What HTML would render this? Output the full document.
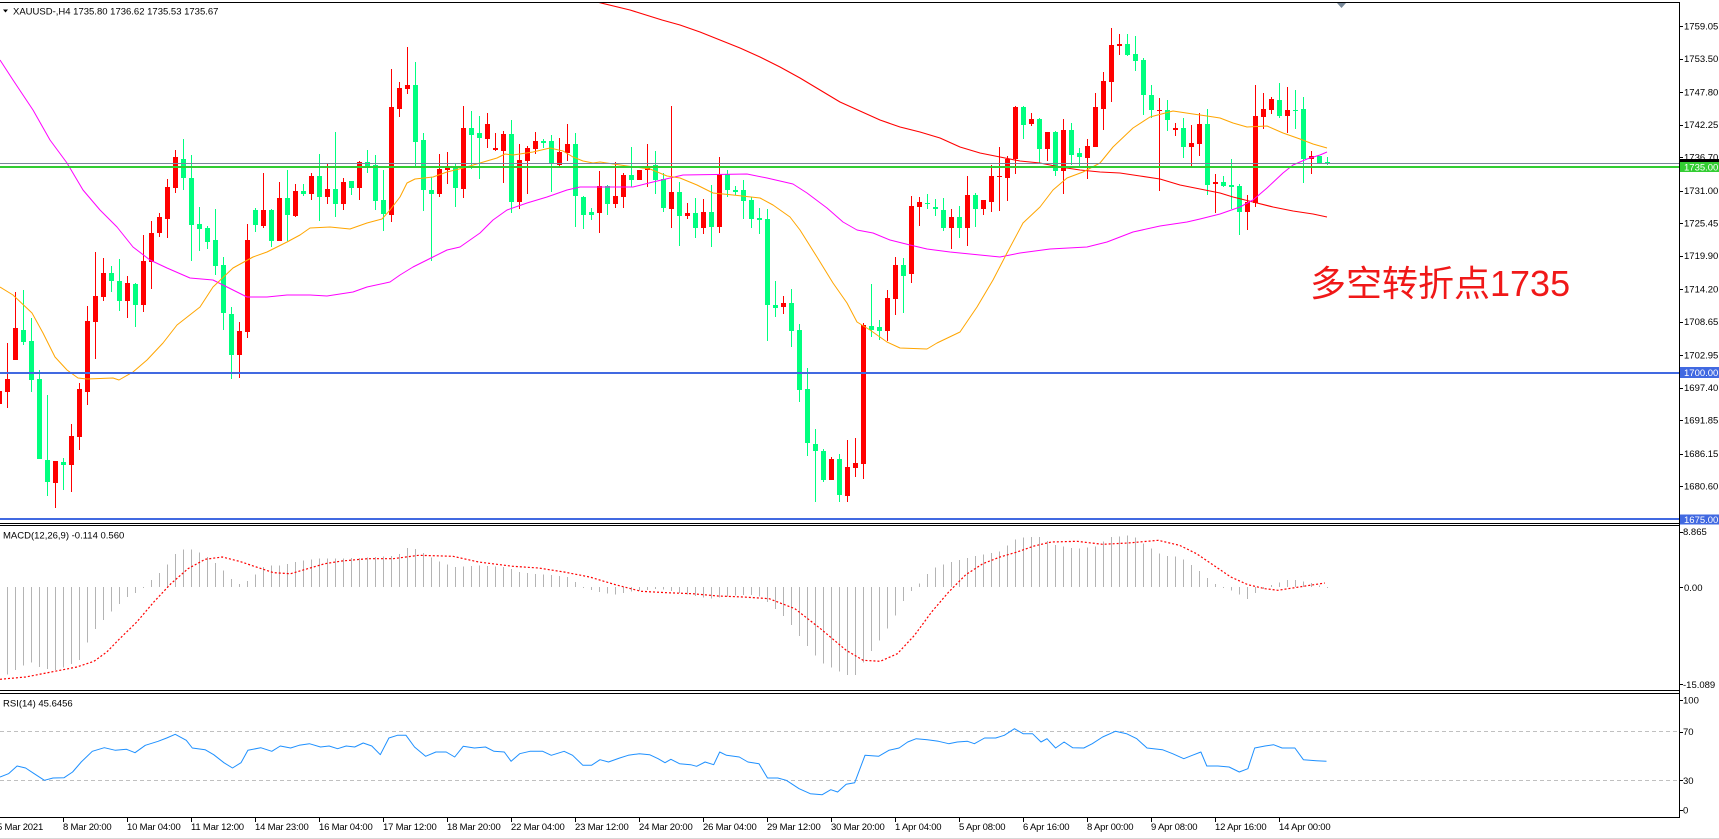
<!DOCTYPE html>
<html><head><meta charset="utf-8">
<style>
html,body{margin:0;padding:0;background:#fff;overflow:hidden;}
svg{display:block;}
text{font-family:"Liberation Sans","Noto Sans CJK SC",sans-serif;}
.ax{font-size:9.5px;fill:#000;}
.xl{font-size:9.5px;fill:#000;letter-spacing:-0.2px;}
.wt{font-size:9.5px;fill:#fff;}
</style></head><body>
<svg id="s" xmlns="http://www.w3.org/2000/svg" width="1719" height="839" viewBox="0 0 1719 839">
<defs>
<clipPath id="cm"><rect x="0" y="3" width="1679" height="520"/></clipPath>
<clipPath id="cd"><rect x="0" y="526" width="1679" height="164"/></clipPath>
<clipPath id="cr"><rect x="0" y="694" width="1679" height="123"/></clipPath>
</defs>
<rect width="1719" height="839" fill="#fff"/>
<g id="main" clip-path="url(#cm)"></g>
<g id="macd" clip-path="url(#cd)"></g>
<g id="rsi" clip-path="url(#cr)">
  <line x1="0" y1="731.5" x2="1679" y2="731.5" stroke="#C0C0C0" stroke-width="1" stroke-dasharray="4,3"/>
  <line x1="0" y1="780.5" x2="1679" y2="780.5" stroke="#C0C0C0" stroke-width="1" stroke-dasharray="4,3"/>
</g>
<g id="objs" clip-path="url(#cm)" shape-rendering="crispEdges">
  <rect x="0" y="163" width="1679" height="1" fill="#778899"/>
  <rect x="0" y="166" width="1679" height="2" fill="#32CD32"/>
  <rect x="0" y="372" width="1679" height="2" fill="#4169E1"/>
  <rect x="0" y="518" width="1679" height="2" fill="#4169E1"/>
</g>
<!-- frame -->
<g shape-rendering="crispEdges" fill="#000">
  <rect x="0" y="2" width="1680" height="1"/>
  <rect x="1679" y="2" width="1" height="816"/>
  <rect x="0" y="523" width="1679" height="1"/>
  <rect x="0" y="525" width="1679" height="1"/>
  <rect x="0" y="690" width="1679" height="1"/>
  <rect x="0" y="693" width="1679" height="1"/>
  <rect x="0" y="817" width="1680" height="1"/>
  <rect x="0" y="838" width="1719" height="1" fill="#d8d8d8"/>
</g>
<polygon points="1337,3 1346,3 1341.5,8" fill="#778899"/>
<!-- title -->
<polygon points="3,9.5 8,9.5 5.5,12.5" fill="#000"/>
<text x="13" y="14.5" class="ax">XAUUSD-,H4  1735.80 1736.62 1735.53 1735.67</text>
<text x="3" y="538.5" class="ax">MACD(12,26,9) -0.114 0.560</text>
<text x="3" y="706.5" class="ax">RSI(14) 45.6456</text>
<!-- big annotation -->
<text x="1310" y="296" font-size="36" fill="#F01818" style="font-family:'Liberation Sans','Noto Sans CJK SC',sans-serif;">多空转折点1735</text>
<!-- right axis ticks -->
<g id="rt" shape-rendering="crispEdges" fill="#000"></g>
<!-- right axis labels -->
<text x="1684" y="29.4" class="ax">1759.05</text>
<text x="1684" y="62" class="ax">1753.50</text>
<text x="1684" y="95.4" class="ax">1747.80</text>
<text x="1684" y="128" class="ax">1742.25</text>
<text x="1684" y="160.4" class="ax">1736.70</text>
<rect x="1680" y="159" width="39" height="3" fill="#000"/>
<rect x="1680" y="162" width="39" height="10" fill="#32CD32"/>
<text x="1684" y="170.6" class="wt">1735.00</text>
<text x="1684" y="194" class="ax">1731.00</text>
<text x="1684" y="226.5" class="ax">1725.45</text>
<text x="1684" y="259" class="ax">1719.90</text>
<text x="1684" y="292.5" class="ax">1714.20</text>
<text x="1684" y="325" class="ax">1708.65</text>
<text x="1684" y="358.5" class="ax">1702.95</text>
<rect x="1680" y="367" width="39" height="11" fill="#4169E1"/>
<text x="1684" y="376" class="wt">1700.00</text>
<text x="1684" y="391" class="ax">1697.40</text>
<text x="1684" y="423.6" class="ax">1691.85</text>
<text x="1684" y="457" class="ax">1686.15</text>
<text x="1684" y="489.6" class="ax">1680.60</text>
<rect x="1680" y="514.5" width="39" height="10" fill="#4169E1"/>
<text x="1684" y="523" class="wt">1675.00</text>
<text x="1683" y="535" class="ax">8.865</text>
<text x="1684" y="591" class="ax">0.00</text>
<text x="1683" y="688" class="ax">-15.089</text>
<text x="1683" y="703.5" class="ax">100</text>
<text x="1683" y="735" class="ax">70</text>
<text x="1683" y="784" class="ax">30</text>
<text x="1683" y="813.5" class="ax">0</text>
<!-- x axis -->
<g id="xt" shape-rendering="crispEdges" fill="#000"></g>
<text x="-3" y="830" class="xl">5 Mar 2021</text>
<text x="63" y="830" class="xl">8 Mar 20:00</text>
<text x="127" y="830" class="xl">10 Mar 04:00</text>
<text x="191" y="830" class="xl">11 Mar 12:00</text>
<text x="255" y="830" class="xl">14 Mar 23:00</text>
<text x="319" y="830" class="xl">16 Mar 04:00</text>
<text x="383" y="830" class="xl">17 Mar 12:00</text>
<text x="447" y="830" class="xl">18 Mar 20:00</text>
<text x="511" y="830" class="xl">22 Mar 04:00</text>
<text x="575" y="830" class="xl">23 Mar 12:00</text>
<text x="639" y="830" class="xl">24 Mar 20:00</text>
<text x="703" y="830" class="xl">26 Mar 04:00</text>
<text x="767" y="830" class="xl">29 Mar 12:00</text>
<text x="831" y="830" class="xl">30 Mar 20:00</text>
<text x="895" y="830" class="xl">1 Apr 04:00</text>
<text x="959" y="830" class="xl">5 Apr 08:00</text>
<text x="1023" y="830" class="xl">6 Apr 16:00</text>
<text x="1087" y="830" class="xl">8 Apr 00:00</text>
<text x="1151" y="830" class="xl">9 Apr 08:00</text>
<text x="1215" y="830" class="xl">12 Apr 16:00</text>
<text x="1279" y="830" class="xl">14 Apr 00:00</text>
</svg>
<script>
(function(){
var NS="http://www.w3.org/2000/svg";
function el(p,t,a){var e=document.createElementNS(NS,t);for(var k in a)e.setAttribute(k,a[k]);p.appendChild(e);return e;}
var C=[
[391,404,385,408,1],[379,392,343,408,1],[328,360,292,360,1],[330,342,290,345,0],[341,380,318,392,0],
[379,459,370,459,0],[460,482,395,496,0],[461,483,461,508,1],[462,465,458,490,0],[436,465,424,492,1],
[389,437,383,450,1],[321,392,306,405,1],[296,322,252,359,1],[273,297,258,301,1],[273,281,266,292,0],
[281,301,259,311,0],[283,301,276,318,1],[284,305,283,327,0],[261,305,235,312,1],[233,262,221,289,1],
[217,233,213,237,1],[187,219,179,238,1],[157,188,150,193,1],[159,178,139,190,0],[178,225,155,261,0],
[224,229,207,251,0],[228,242,226,249,0],[240,266,209,275,0],[265,313,257,330,0],[314,355,307,379,0],
[331,355,322,378,1],[240,332,224,338,1],[210,225,208,232,0],[210,226,173,228,1],[210,241,209,247,0],
[198,241,182,241,1],[198,215,170,241,0],[191,216,184,217,1],[191,194,184,196,0],[176,194,173,200,1],
[176,197,154,221,0],[189,197,164,204,1],[189,204,132,217,0],[182,204,178,210,1],[181,188,181,195,0],
[162,188,161,200,1],[162,167,150,173,0],[165,201,155,210,0],[200,214,170,231,0],[107,215,69,222,1],
[88,109,82,117,1],[85,89,47,94,1],[85,142,62,167,0],[140,190,133,211,0],[190,194,177,261,0],
[169,194,154,197,1],[168,170,152,184,1],[167,188,164,207,0],[128,189,106,198,1],[128,135,111,169,0],
[133,138,116,179,0],[124,139,113,148,1],[148,150,133,151,1],[134,151,131,183,1],[134,202,120,213,0],
[160,202,144,209,1],[148,161,146,194,1],[141,149,132,154,1],[141,143,139,148,0],[141,164,135,192,0],
[152,165,138,166,1],[144,153,124,161,1],[144,196,133,227,0],[197,215,196,229,0],[212,215,208,220,0],
[186,213,171,233,1],[186,204,185,215,0],[196,204,162,208,1],[175,197,173,208,1],[175,180,147,187,0],
[170,180,170,180,1],[168,170,144,187,1],[165,180,151,194,0],[179,208,173,212,0],[192,209,106,228,1],
[192,216,182,246,0],[213,216,203,219,1],[213,228,198,238,0],[212,228,199,234,1],[212,227,185,247,0],
[174,227,157,233,1],[174,190,170,197,0],[190,192,186,195,0],[190,201,180,219,0],[200,219,197,228,0],
[218,220,208,234,0],[219,305,209,341,0],[305,308,281,317,0],[303,307,296,314,1],[303,331,289,347,0],
[330,390,324,402,0],[389,443,368,456,0],[444,451,429,502,0],[451,480,449,482,0],[459,480,457,480,1],
[459,495,454,502,0],[467,496,440,502,1],[463,468,438,477,1],[325,464,323,479,1],[326,330,284,337,0],
[327,331,320,340,0],[298,331,290,341,1],[265,299,257,315,1],[265,276,258,313,0],[206,274,196,283,1],
[202,207,197,226,1],[203,204,194,209,0],[207,209,199,216,0],[210,228,198,231,0],[217,228,209,249,1],
[217,228,206,238,0],[195,228,176,246,1],[195,209,193,227,0],[200,209,200,215,1],[176,202,165,212,1],
[176,177,147,211,1],[159,178,156,201,1],[107,159,106,174,1],[107,125,106,139,0],[119,124,113,126,1],
[119,149,118,164,0],[132,149,132,161,1],[132,171,131,176,0],[130,171,119,194,1],[130,155,123,165,0],
[153,157,148,167,0],[146,158,139,179,1],[107,147,93,147,1],[81,109,72,130,1],[45,82,28,102,1],
[44,46,34,55,1],[44,55,34,56,0],[54,61,36,71,0],[60,95,58,115,0],[95,110,85,118,0],
[110,111,98,191,1],[110,120,100,131,0],[128,130,123,136,1],[128,147,118,158,0],[143,147,125,166,1],
[124,144,113,156,1],[124,185,109,195,0],[182,184,174,213,1],[182,186,176,187,0],[185,187,159,209,0],
[186,212,184,235,0],[202,212,195,230,1],[116,203,85,207,1],[109,117,93,129,1],[99,110,97,114,1],
[100,116,83,118,0],[110,116,87,133,1],[110,111,90,129,0],[109,159,97,183,0],[156,159,151,174,1],
[156,163,156,164,0],[162,163,157,165,0]
];
var main=document.getElementById('main');
var cg=el(main,'g',{'shape-rendering':'crispEdges'});
for(var i=0;i<C.length;i++){
  var k=i-1,c=C[i],col=c[4]?'#FF0000':'#00FF7F';
  el(cg,'rect',{x:8*k+7,y:c[2],width:1,height:Math.max(c[3]-c[2],1),fill:col});
  el(cg,'rect',{x:8*k+5,y:c[0],width:5,height:Math.max(c[1]-c[0],1),fill:col});
}
function pl(p,pts,color,extra){
  var s=pts.map(function(q){return q[0]+','+q[1];}).join(' ');
  var a={points:s,fill:'none',stroke:color,'stroke-width':1,'stroke-linejoin':'round'};
  if(extra)for(var k in extra)a[k]=extra[k];
  return el(p,'polyline',a);
}
var RED=[[560,-10],[597,2],[630,10],[662,20],[680,25],[700,32],[720,40],[740,48],[760,57],[780,67],[800,78],[820,90],[840,102],[860,111],[880,120],[900,127],[920,132],[940,138],[960,147],[980,153],[1000,157],[1020,161],[1040,163],[1060,167],[1080,170],[1100,172],[1120,173],[1140,176],[1160,179],[1180,185],[1200,189],[1220,193],[1233,197],[1253,202],[1273,207],[1293,211],[1313,214],[1327,217]];
var MAG=[[0,60],[13,80],[33,110],[50,140],[67,163],[83,190],[100,210],[117,227],[133,247],[150,260],[167,268],[190,278],[213,280],[233,290],[247,297],[267,297],[287,295],[310,295],[327,296],[353,292],[367,287],[390,282],[400,275],[413,267],[433,257],[447,250],[460,247],[480,233],[493,220],[507,210],[527,203],[547,197],[567,190],[580,187],[633,187],[653,182],[683,175],[747,174],[767,178],[793,184],[807,193],[827,208],[843,222],[857,230],[873,233],[890,240],[910,245],[927,249],[950,252],[980,255],[1000,257],[1020,253],[1050,249],[1087,247],[1107,242],[1133,232],[1160,226],[1187,222],[1200,219],[1220,214],[1240,207],[1253,200],[1267,188],[1283,173],[1293,165],[1307,159],[1320,155],[1327,152]];
var ORA=[[0,287],[13,295],[32,313],[43,333],[55,357],[67,370],[78,378],[87,379],[113,378],[119,380],[133,372],[147,360],[163,343],[177,325],[200,307],[213,287],[233,268],[253,257],[267,252],[287,242],[300,235],[310,228],[330,227],[350,229],[367,223],[382,219],[390,210],[400,197],[407,183],[415,179],[433,177],[447,172],[463,168],[480,163],[497,158],[505,154],[513,155],[533,152],[550,148],[563,151],[573,157],[583,161],[593,163],[600,162],[627,166],[650,169],[667,176],[680,178],[697,185],[713,193],[733,195],[760,198],[773,205],[790,217],[800,230],[817,257],[833,283],[847,303],[857,322],[870,330],[887,342],[900,348],[927,349],[937,343],[960,332],[977,307],[993,280],[1007,253],[1023,223],[1040,207],[1053,190],[1067,178],[1083,172],[1100,163],[1113,147],[1133,128],[1150,117],[1173,111],[1193,114],[1207,116],[1220,118],[1233,123],[1247,127],[1267,126],[1283,133],[1300,139],[1313,144],[1327,148]];
pl(main,RED,'#FF0000',{'stroke-width':1.1});
pl(main,MAG,'#FF00FF');
pl(main,ORA,'#FFA500');
function cv(a){return a.map(function(q){return [+(q[0]/1.17).toFixed(1),+(522+q[1]/3).toFixed(1)];});}
function interp(p,x){if(x<=p[0][0])return p[0][1];for(var i=1;i<p.length;i++){if(x<=p[i][0]){var t=(x-p[i-1][0])/(p[i][0]-p[i-1][0]);return p[i-1][1]+t*(p[i][1]-p[i-1][1]);}}return p[p.length-1][1];}
var H=cv([[0,470],[17,445],[35,420],[50,440],[65,445],[80,430],[95,410],[105,340],[120,295],[135,255],[150,222],[165,205],[178,170],[190,145],[205,95],[215,82],[225,82],[240,100],[255,130],[270,170],[282,190],[295,165],[310,130],[330,130],[345,120],[370,110],[400,110],[440,105],[465,100],[478,75],[490,85],[510,115],[530,135],[560,130],[590,135],[610,152],[640,158],[665,165],[680,195],[700,210],[720,218],[740,208],[770,200],[800,215],[830,230],[860,220],[885,218],[900,245],[920,290],[940,360],[960,420],[975,440],[990,458],[1000,460],[1015,400],[1030,350],[1045,290],[1060,220],[1075,185],[1090,140],[1110,122],[1140,102],[1170,88],[1185,55],[1200,45],[1215,45],[1235,70],[1260,80],[1280,75],[1300,45],[1325,40],[1340,70],[1360,100],[1380,105],[1400,140],[1420,185],[1440,205],[1460,232],[1470,210],[1490,185],[1510,172],[1530,180],[1550,195]]);
var md=document.getElementById('macd');
var hg=el(md,'g',{'shape-rendering':'crispEdges'});
var Z=587;
for(var k=-1;k<=165;k++){var x=8*k+7;var y=interp(H,x);var t=Math.min(y,Z),h=Math.abs(y-Z);if(h<1)h=1;
  el(hg,'rect',{x:x,y:t.toFixed(1),width:1,height:h.toFixed(1),fill:'#B4B4B4'});}
var SG=cv([[0,472],[30,465],[60,450],[90,435],[110,418],[125,390],[140,350],[160,300],[180,240],[200,185],[220,140],[240,112],[260,105],[280,118],[300,135],[320,152],[340,155],[360,140],[380,125],[400,117],[430,110],[460,110],[490,100],[530,103],[560,120],[600,133],[630,138],[660,150],[690,165],[720,188],[750,208],[780,212],[810,215],[840,222],[870,225],[900,230],[930,260],[960,320],[990,385],[1010,415],[1030,418],[1050,395],[1070,340],[1090,270],[1110,210],[1130,158],[1150,125],[1170,105],[1190,90],[1210,72],[1230,60],[1260,58],[1290,67],[1320,63],[1355,55],[1380,70],[1400,95],[1420,130],[1440,165],[1460,188],[1480,200],[1495,205],[1520,195],[1550,183]]);
pl(md,SG,'#FF0000',{'stroke-dasharray':'2,2','stroke-width':1.2});
var RS=cv([[0,765],[10,755],[20,732],[30,738],[40,755],[52,775],[62,768],[75,767],[85,750],[95,720],[108,688],[122,677],[135,685],[148,682],[158,692],[170,670],[185,658],[195,648],[205,637],[218,655],[225,678],[240,683],[250,698],[262,722],[272,738],[282,722],[290,685],[305,677],[318,688],[328,672],[340,678],[350,670],[362,665],[375,675],[385,672],[395,680],[405,672],[415,675],[425,663],[435,672],[445,698],[455,648],[465,640],[475,640],[485,675],[498,703],[510,690],[522,690],[532,705],[542,673],[555,678],[568,675],[578,688],[590,690],[598,718],[608,695],[620,688],[635,688],[645,700],[660,688],[670,700],[682,730],[692,730],[702,713],[712,720],[725,708],[735,700],[748,695],[760,698],[770,710],[778,722],[785,712],[795,725],[808,728],[815,733],[825,720],[835,728],[842,690],[850,700],[865,705],[875,720],[888,725],[898,768],[910,768],[920,775],[935,800],[948,815],[962,818],[972,803],[980,810],[990,787],[1000,782],[1012,700],[1028,703],[1040,685],[1052,678],[1062,660],[1072,650],[1085,653],[1098,658],[1110,665],[1120,660],[1132,658],[1140,665],[1152,648],[1165,648],[1175,640],[1187,620],[1197,635],[1208,635],[1218,660],[1225,650],[1235,678],[1245,660],[1255,677],[1268,678],[1278,665],[1290,645],[1305,628],[1318,635],[1330,650],[1342,678],[1360,683],[1372,695],[1385,710],[1395,700],[1405,690],[1412,732],[1425,732],[1438,735],[1450,750],[1460,740],[1468,678],[1480,672],[1490,668],[1500,678],[1515,678],[1525,713],[1540,716],[1552,718]]);
pl(document.getElementById('rsi'),RS,'#1E90FF');
var rt=document.getElementById('rt');
[26,58.6,92,124.5,157,190.5,223,255.7,289,321.6,355,387.6,420.2,453.6,486.2,532,587,684,700,732,780,810].forEach(function(y){el(rt,'rect',{x:1680,y:Math.round(y),width:3,height:1});});
var xt=document.getElementById('xt');
[-1,63,127,191,255,319,383,447,511,575,639,703,767,831,895,959,1023,1087,1151,1215,1279].forEach(function(x){el(xt,'rect',{x:x,y:818,width:1,height:4});});
})();
</script>
</body></html>
